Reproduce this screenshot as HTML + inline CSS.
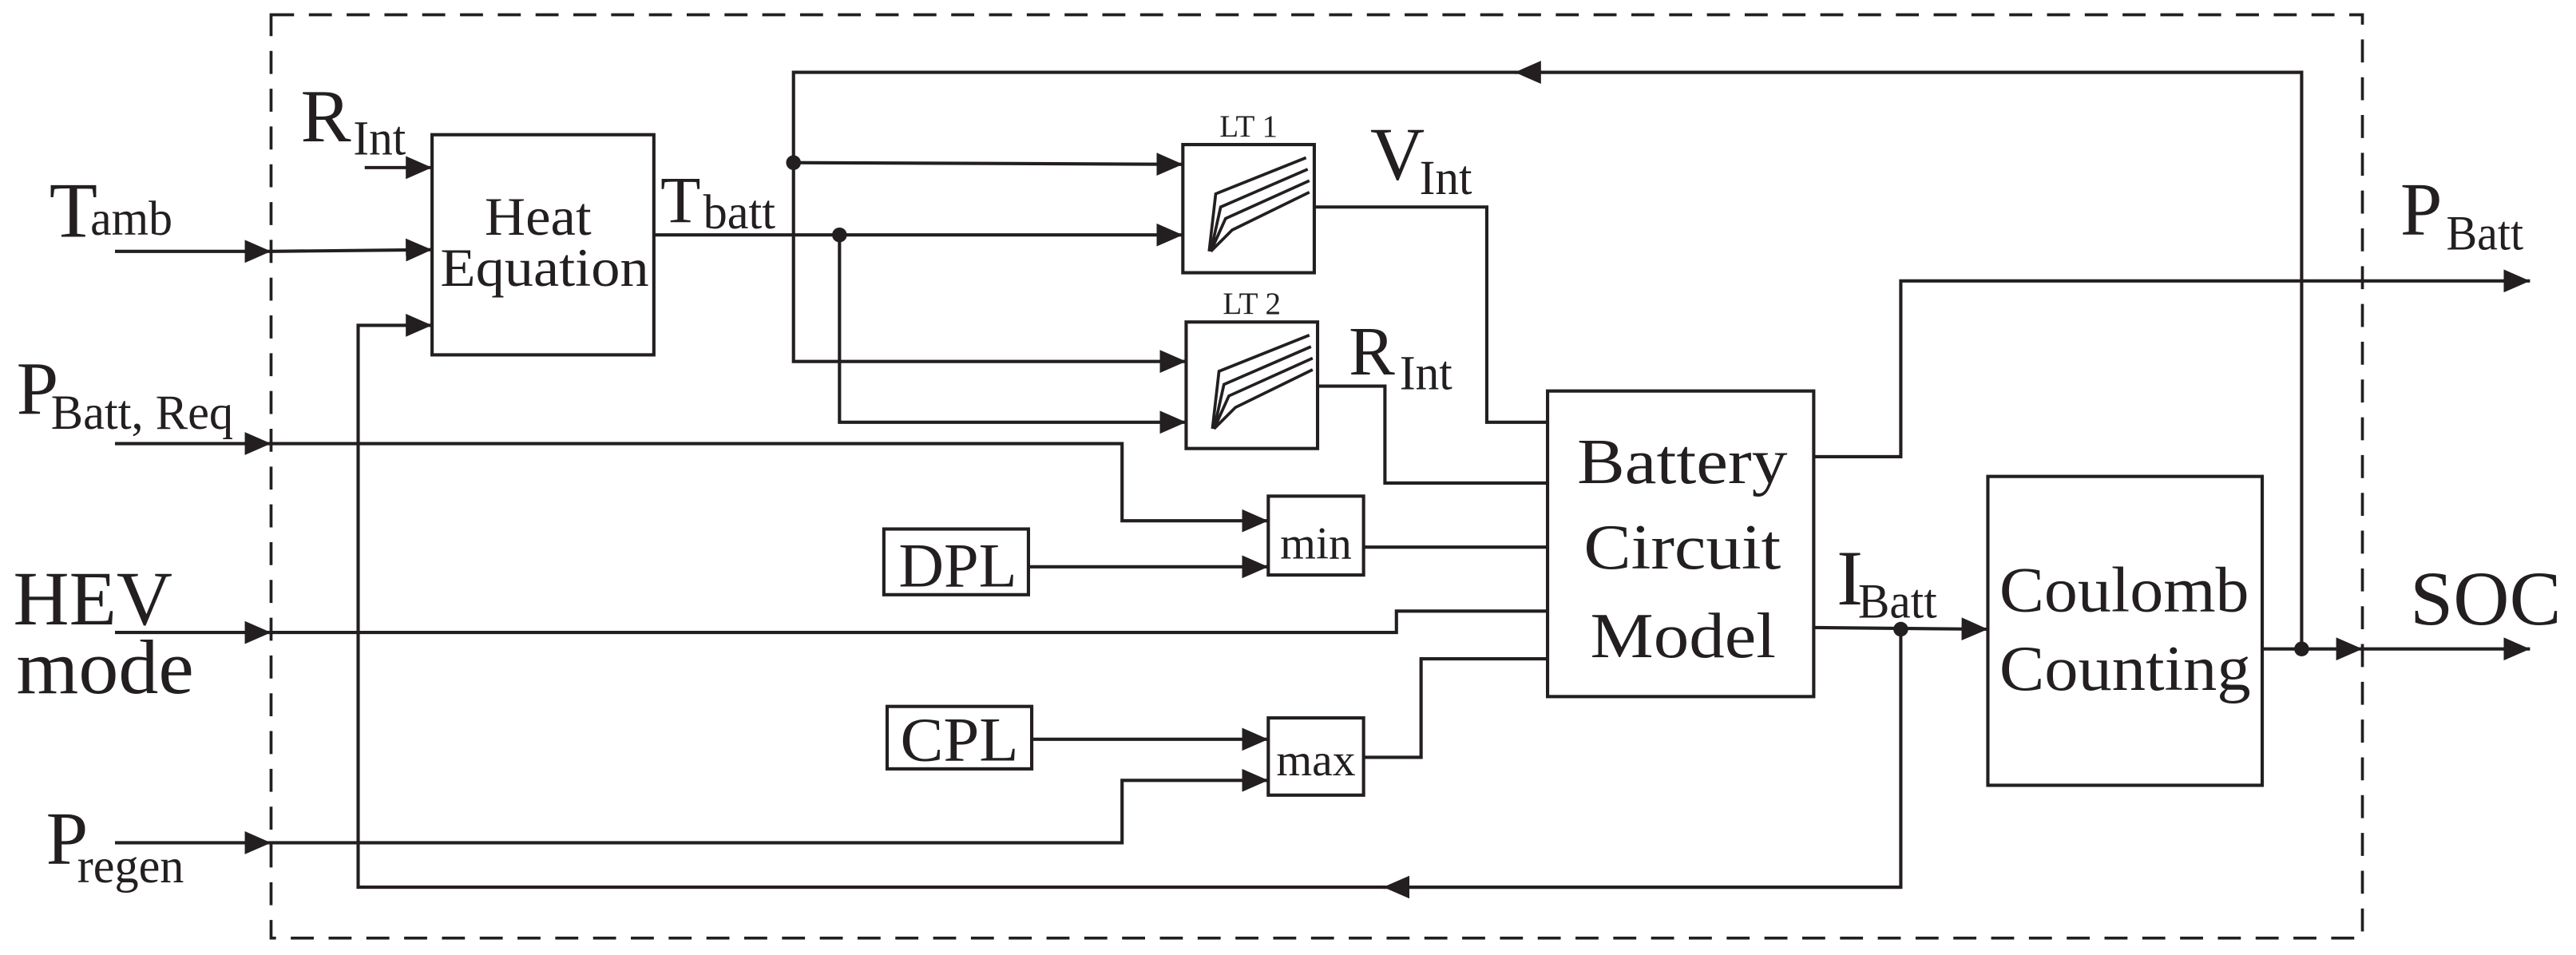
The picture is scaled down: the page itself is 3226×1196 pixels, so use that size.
<!DOCTYPE html>
<html><head><meta charset="utf-8"><style>
html,body{margin:0;padding:0;background:#fff;}
svg{display:block;}
text{font-family:"Liberation Serif",serif;fill:#231f20;}
</style></head><body>
<svg width="3226" height="1196" viewBox="0 0 1568 581.3" xmlns="http://www.w3.org/2000/svg">
<defs>
<marker id="a" markerWidth="16" markerHeight="14" refX="16" refY="7" orient="auto" markerUnits="userSpaceOnUse">
<path d="M0,0 L16,7 L0,14 Z" fill="#231f20"/></marker>
</defs>
<g fill="none" stroke="#231f20" stroke-width="2">
<rect x="165" y="9" width="1273" height="562" stroke-dasharray="14,9" stroke-width="1.8"/>
<polyline points="1401,395 1401,44 483,44 483,220 722,220" marker-end="url(#a)"/>
<line x1="1401" y1="44" x2="922" y2="44" marker-end="url(#a)"/>
<line x1="483" y1="99" x2="720" y2="100" marker-end="url(#a)"/>
<line x1="398" y1="143" x2="720" y2="143" marker-end="url(#a)"/>
<polyline points="511,143 511,257 722,257" marker-end="url(#a)"/>
<rect x="263" y="82" width="135" height="134"/>
<line x1="222" y1="102" x2="263" y2="102" marker-end="url(#a)"/>
<line x1="70" y1="153" x2="165" y2="153" marker-end="url(#a)"/>
<line x1="165" y1="153" x2="263" y2="152" marker-end="url(#a)"/>
<polyline points="1157,383 1157,540 218,540 218,198 263,198" marker-end="url(#a)"/>
<line x1="1157" y1="540" x2="842" y2="540" marker-end="url(#a)"/>
<line x1="70" y1="270" x2="165" y2="270" marker-end="url(#a)"/>
<polyline points="165,270 683,270 683,317 772,317" marker-end="url(#a)"/>
<rect x="538" y="322" width="88" height="40"/>
<line x1="626" y1="345" x2="772" y2="345" marker-end="url(#a)"/>
<rect x="772" y="302" width="58" height="48"/>
<line x1="830" y1="333" x2="942" y2="333"/>
<line x1="70" y1="385" x2="165" y2="385" marker-end="url(#a)"/>
<polyline points="165,385 850,385 850,372 942,372"/>
<rect x="540" y="430" width="88" height="38"/>
<line x1="628" y1="450" x2="772" y2="450" marker-end="url(#a)"/>
<rect x="772" y="437" width="58" height="47"/>
<polyline points="830,461 865,461 865,401 942,401"/>
<line x1="70" y1="513" x2="165" y2="513" marker-end="url(#a)"/>
<polyline points="165,513 683,513 683,475 772,475" marker-end="url(#a)"/>
<rect x="720" y="88" width="80" height="78"/>
<rect x="722" y="196" width="80" height="77"/>
<polyline points="800,126 905,126 905,257 942,257"/>
<polyline points="802,235 843,235 843,294 942,294"/>
<rect x="942" y="238" width="162" height="186"/>
<polyline points="1104,278 1157,278 1157,171 1540,171" marker-end="url(#a)"/>
<line x1="1104" y1="382" x2="1210" y2="383" marker-end="url(#a)"/>
<rect x="1210" y="290" width="167" height="188"/>
<line x1="1377" y1="395" x2="1438" y2="395" marker-end="url(#a)"/>
<line x1="1438" y1="395" x2="1540" y2="395" marker-end="url(#a)"/>
</g>
<g fill="none" stroke="#231f20" stroke-width="1.8">
<polyline points="736,153 740,118 795,96"/>
<polyline points="737,153 743,126 796,103"/>
<polyline points="737,153 746,133 797,110"/>
<polyline points="737,153 750,140 797,117"/>
<polyline points="738,261 742,226 797,204"/>
<polyline points="739,261 745,234 798,211"/>
<polyline points="739,261 748,241 799,218"/>
<polyline points="739,261 752,248 799,225"/>
</g>
<g fill="#231f20">
<circle cx="483" cy="99" r="4.5"/><circle cx="511" cy="143" r="4.5"/>
<circle cx="1157" cy="383" r="4.5"/><circle cx="1401" cy="395" r="4.5"/>
</g>
<text x="295" y="143" font-size="33" textLength="65" lengthAdjust="spacingAndGlyphs">Heat</text>
<text x="268" y="174" font-size="33" textLength="127" lengthAdjust="spacingAndGlyphs">Equation</text>
<text x="183" y="86" font-size="46">R</text>
<text x="215" y="94" font-size="30" textLength="32" lengthAdjust="spacingAndGlyphs">Int</text>
<text x="30" y="144" font-size="48">T</text>
<text x="55" y="143" font-size="30" textLength="50" lengthAdjust="spacingAndGlyphs">amb</text>
<text x="402" y="135" font-size="40">T</text>
<text x="428" y="139" font-size="30" textLength="44" lengthAdjust="spacingAndGlyphs">batt</text>
<text x="10" y="252" font-size="46">P</text>
<text x="31" y="261" font-size="30" textLength="111" lengthAdjust="spacingAndGlyphs">Batt, Req</text>
<text x="8" y="380" font-size="47" textLength="97" lengthAdjust="spacingAndGlyphs">HEV</text>
<text x="10" y="422" font-size="47" textLength="108" lengthAdjust="spacingAndGlyphs">mode</text>
<text x="28" y="526" font-size="46">P</text>
<text x="47" y="537" font-size="30" textLength="65" lengthAdjust="spacingAndGlyphs">regen</text>
<text x="547" y="357" font-size="38" textLength="72" lengthAdjust="spacingAndGlyphs">DPL</text>
<text x="548" y="463" font-size="38" textLength="72" lengthAdjust="spacingAndGlyphs">CPL</text>
<text x="801" y="340" font-size="28" text-anchor="middle">min</text>
<text x="801" y="472" font-size="28" text-anchor="middle">max</text>
<text x="760" y="83" font-size="19" text-anchor="middle">LT 1</text>
<text x="762" y="191" font-size="19" text-anchor="middle">LT 2</text>
<text x="834" y="109" font-size="46">V</text>
<text x="864" y="118" font-size="30" textLength="32" lengthAdjust="spacingAndGlyphs">Int</text>
<text x="821" y="228" font-size="42">R</text>
<text x="852" y="237" font-size="30" textLength="32" lengthAdjust="spacingAndGlyphs">Int</text>
<text x="960" y="294" font-size="39" textLength="128" lengthAdjust="spacingAndGlyphs">Battery</text>
<text x="964" y="346" font-size="39" textLength="120" lengthAdjust="spacingAndGlyphs">Circuit</text>
<text x="968" y="400" font-size="39" textLength="113" lengthAdjust="spacingAndGlyphs">Model</text>
<text x="1217" y="372" font-size="39" textLength="152" lengthAdjust="spacingAndGlyphs">Coulomb</text>
<text x="1217" y="420" font-size="39" textLength="153" lengthAdjust="spacingAndGlyphs">Counting</text>
<text x="1118" y="368" font-size="48">I</text>
<text x="1131" y="376" font-size="30" textLength="48" lengthAdjust="spacingAndGlyphs">Batt</text>
<text x="1461" y="143" font-size="46">P</text>
<text x="1489" y="152" font-size="30" textLength="47" lengthAdjust="spacingAndGlyphs">Batt</text>
<text x="1467" y="380" font-size="47" textLength="92" lengthAdjust="spacingAndGlyphs">SOC</text>
</svg>
</body></html>
